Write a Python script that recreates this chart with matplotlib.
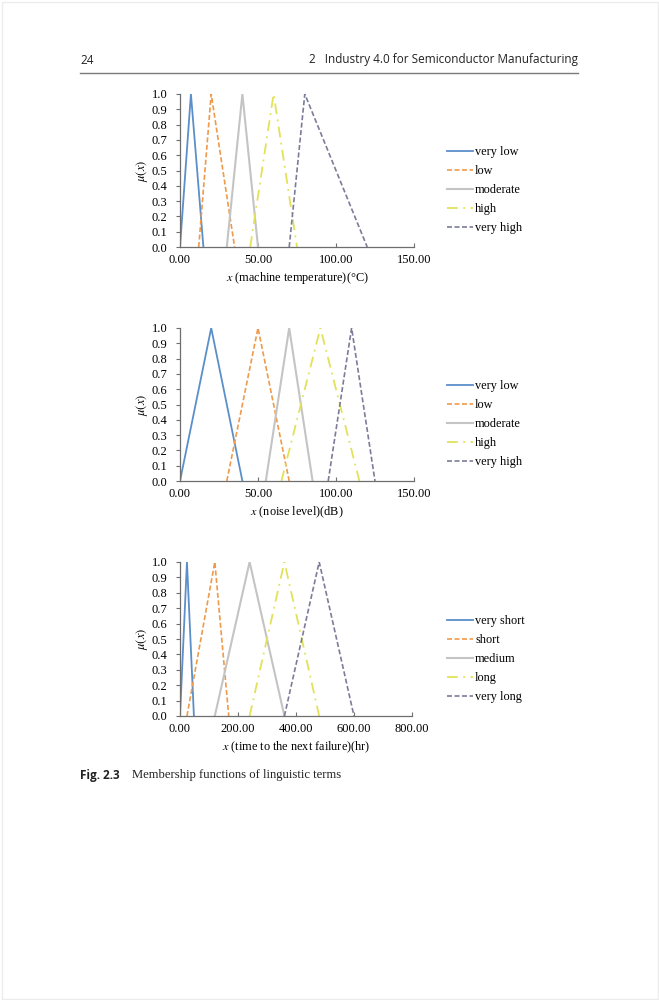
import matplotlib
matplotlib.use("Agg")
import matplotlib.pyplot as plt
from matplotlib.patches import Rectangle
from matplotlib.lines import Line2D

# ---------------- data ----------------
membership = [0, 1, 0]

temp_terms = ["very low", "low", "moderate", "high", "very high"]
temp_params = [(0, 7, 15), (12, 20, 35), (30, 40, 50), (45, 60, 75), (70, 80, 120)]
temp_xticks = [0, 50, 100, 150]

noise_terms = ["very low", "low", "moderate", "high", "very high"]
noise_params = [(0, 20, 40), (30, 50, 70), (55, 70, 85), (65, 90, 115), (95, 110, 125)]
noise_xticks = [0, 50, 100, 150]

time_terms = ["very short", "short", "medium", "long", "very long"]
time_params = [(0, 24, 48), (24, 120, 168), (120, 240, 360), (240, 360, 480), (360, 480, 600)]
time_xticks = [0, 200, 400, 600, 800]

y_ticks = [i / 10 for i in range(11)]

# ---------------- styles ----------------
colors = ["#5b8fc9", "#ef9a4a", "#c4c4c4", "#e2e25a", "#7c7c98"]
styles = ["-", (0, (3, 1.5)), "-", (0, (6, 3, 1, 3)), (0, (3, 1.5))]
widths = [1.3, 1.2, 1.5, 1.3, 1.2]

serif = ["Liberation Serif", "DejaVu Serif"]
tick_fs = 9

W, H = 659, 1000
fig = plt.figure(figsize=(W / 100, H / 100), dpi=100)
plt.rcParams["mathtext.fontset"] = "stix"


def px_axes(left, right, top, bottom):
    return fig.add_axes([left / W, 1 - bottom / H, (right - left) / W, (bottom - top) / H])


def panel(top, bottom, right, params, terms, xticks, xlabel, leg_top):
    ax = px_axes(180, right, top, bottom)
    for p, c, ls, lw in zip(params, colors, styles, widths):
        ax.plot(list(p), membership, color=c, linestyle=ls, linewidth=lw)
    ax.set_xlim(xticks[0], xticks[-1])
    ax.set_ylim(0, 1)
    ax.set_xticks(xticks)
    ax.set_xticklabels([f"{v:.2f}" for v in xticks], fontfamily=serif, fontsize=tick_fs)
    ax.set_yticks(y_ticks)
    ax.set_yticklabels([f"{v:.1f}" for v in y_ticks], fontfamily=serif, fontsize=tick_fs)
    for s in ["top", "right"]:
        ax.spines[s].set_visible(False)
    for s in ["left", "bottom"]:
        ax.spines[s].set_color("#6e6e6e")
        ax.spines[s].set_linewidth(0.9)
    ax.tick_params(axis="x", direction="in", length=3, color="#6e6e6e", pad=5)
    ax.tick_params(axis="y", direction="out", length=3, color="#6e6e6e", pad=6)
    ax.set_ylabel(r"$\mu(x)$", fontsize=9, labelpad=1, fontfamily=serif)
    ax.set_xlabel(xlabel, fontsize=8.8, fontfamily=serif, labelpad=3)
    ax.patch.set_alpha(0)
    # legend
    handles = [Line2D([], [], color=c, linestyle=ls, linewidth=lw)
               for c, ls, lw in zip(colors, styles, widths)]
    fig.legend(handles, terms, loc="upper left",
               bbox_to_anchor=(447 / W, 1 - (leg_top + 3) / H),
               frameon=False, prop={"family": serif, "size": 8.8},
               handlelength=2.1, handletextpad=0.2, labelspacing=0.58,
               borderaxespad=0, borderpad=0)
    return ax


panel(94, 247, 414, temp_params, temp_terms, temp_xticks,
      r"$x$ (machine temperature)(°C)", 143)
panel(328, 481, 414, noise_params, noise_terms, noise_xticks,
      r"$x$ (noise level)(dB)", 377)
panel(562, 716, 412, time_params, time_terms, time_xticks,
      r"$x$ (time to the next failure)(hr)", 612)

# ---------------- page decorations ----------------
sans = ["Open Sans", "DejaVu Sans"]
fig.text(80 / W, 1 - 60 / H, "24", fontfamily=sans, fontsize=8.5, va="center", ha="left",
         color="#222222")
fig.text(578 / W, 1 - 60 / H, "2   Industry 4.0 for Semiconductor Manufacturing",
         fontfamily=sans, fontsize=8.5, va="center", ha="right", color="#222222")
fig.add_artist(Line2D([80 / W, 578 / W], [1 - 73 / H, 1 - 73 / H], color="#7a7a7a", linewidth=1.0))

fig.text(80 / W, 1 - 775 / H, "Fig. 2.3", fontfamily=sans, fontsize=8.5, fontweight="bold",
         va="center", ha="left", color="#222222")
fig.text(132 / W, 1 - 775 / H, "Membership functions of linguistic terms",
         fontfamily=serif, fontsize=9.1, va="center", ha="left", color="#222222")

fig.add_artist(Rectangle((1.5 / W, 1.5 / H), (W - 3) / W, (H - 3) / H, fill=False,
                         edgecolor="#ececec", linewidth=1.0, transform=fig.transFigure))

fig.savefig("out.png", dpi=100)
